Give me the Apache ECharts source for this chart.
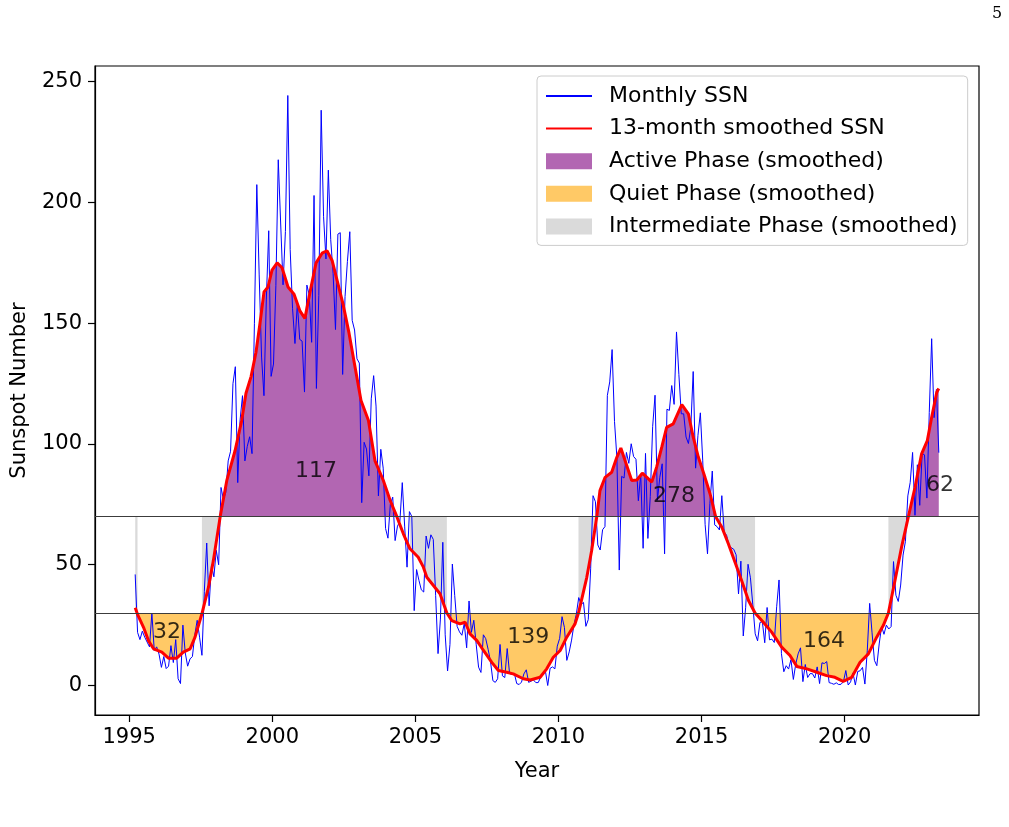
<!DOCTYPE html>
<html>
<head>
<meta charset="utf-8">
<script src="https://cdn.jsdelivr.net/npm/echarts@6/dist/echarts.min.js"></script>
<style>
html, body { margin: 0; padding: 0; background: #fff; }
#chart { width: 1009px; height: 827px; }
</style>
</head>
<body>
<div id="chart"></div>
<script>
// monthly SSN, first value is March 1995, last is April 2023
const START_YEAR = 1995;
const START_MONTH = 3;
const monthlySSN = [
	46, 22, 19, 22.5, 20, 18, 16, 30, 14.5, 16,
	13, 7.5, 12, 7, 8, 16.5, 9.5, 19, 2.8, 0.8, 25, 13.5,
	8, 11, 12, 21, 27, 20, 12.5, 39, 59, 33, 50, 45,
	56, 50, 82, 77, 80, 93, 97, 125, 132, 84, 110, 120,
	93, 99, 103, 96, 150, 207.4, 170, 136, 120, 160, 188.3, 128,
	133.1, 165.7, 217.7, 191.5, 165.9, 188.0, 244.3, 180.5, 156.0, 141.6, 158.1, 143.3,
	142.6, 121.5, 165.8, 161.7, 142.1, 202.9, 123.0, 161.5, 238.2, 194.1, 176.6, 213.4,
	184.6, 170.5, 147.4, 186.9, 187.5, 128.8, 161.0, 175.6, 187.9, 151.2, 147.2, 135.3,
	133.5, 75.7, 100.7, 97.9, 86.8, 118.7, 128.3, 115.7, 78.5, 97.8, 90, 65,
	61, 75, 78, 60, 66, 68, 84, 66, 49, 72, 70, 31,
	48, 43.5, 39.6, 38.7, 61.9, 56.8, 62.4, 60.5, 37.2, 13.2, 27.5, 59.3,
	21, 6, 17, 50.3, 37.2, 24.5, 22.2, 20.8, 25.7, 15.6, 35, 22,
	27, 17, 7.6, 5.4, 21, 19.4, 15, 10, 2, 1.3, 2.8, 17,
	4, 3.3, 15.3, 4.9, 4.6, 5, 0.8, 0.4, 1.4, 4.8, 6.5, 1.3,
	1.8, 2.3, 1.2, 1.2, 3.3, 4.5, 6.1, 0, 7.1, 7.7, 6.9, 16.3,
	19.5, 28.5, 24.0, 10.4, 13.9, 18.8, 25.2, 29.6, 36.4, 33.6, 34.4, 24.5,
	27.3, 48.3, 78.6, 76.1, 58.2, 56.1, 64.5, 65.8, 120.1, 125.7, 139.1, 109.3,
	94.4, 47.8, 86.6, 85.9, 96.5, 92.0, 100.1, 94.8, 93.7, 76.5, 87.6, 56.8,
	96.1, 60.9, 78.3, 107.3, 120.2, 76.7, 86.2, 91.8, 54.5, 114.4, 113.9, 124.2,
	116.4, 146.4, 128.7, 112.5, 112.5, 102.9, 100.2, 106.9, 130.0, 90.0, 103.6, 112.9,
	93.0, 66.7, 54.5, 75.3, 88.8, 66.5, 65.8, 64.4, 78.6, 63.6, 62.2, 58.0,
	57.0, 56.4, 54.1, 37.9, 51.5, 20.5, 32.4, 50.2, 44.6, 33.4, 21.4, 18.5,
	26.1, 26.4, 17.7, 32.3, 18.9, 19.2, 17.8, 32.6, 43.7, 13.2, 5.7, 8.2,
	6.8, 10.7, 2.5, 8.9, 13.1, 15.6, 1.6, 8.7, 3.3, 4.9, 4.9, 3.1,
	7.7, 0.8, 9.4, 9.1, 9.9, 1.2, 0.9, 0.5, 1.1, 0.4, 0.5, 1.6,
	6.2, 0.2, 1.5, 5.2, 0.2, 5.8, 6.1, 7.5, 0.6, 14.4, 34.0, 21.8,
	10.4, 8.2, 17.2, 24.5, 21.2, 25.0, 23.4, 24.4, 51.3, 37.4, 34.8, 41.6,
	54.0, 59.7, 78.5, 84.1, 96.5, 70.5, 91.4, 74.6, 96.0, 95.5, 77.6, 113.1,
	143.6, 110.9, 122.6, 96.4
];

// 13-month smoothed curve
const smoothYears = [
	1995.21, 1995.29, 1995.50, 1995.67, 1995.85, 1996.14, 1996.37, 1996.66, 1996.89, 1997.13,
	1997.30, 1997.54, 1997.77, 1997.94, 1998.18, 1998.41, 1998.70, 1998.93, 1999.08, 1999.26,
	1999.43, 1999.57, 1999.71, 1999.85, 1999.99, 2000.17, 2000.34, 2000.55, 2000.76, 2000.97,
	2001.14, 2001.32, 2001.53, 2001.74, 2001.91, 2002.09, 2002.26, 2002.47, 2002.68, 2002.89,
	2003.10, 2003.36, 2003.59, 2003.88, 2004.12, 2004.35, 2004.58, 2004.81, 2005.10, 2005.28,
	2005.40, 2005.63, 2005.86, 2006.10, 2006.27, 2006.56, 2006.74, 2006.91, 2007.15, 2007.38,
	2007.67, 2007.90, 2008.19, 2008.42, 2008.77, 2009.01, 2009.36, 2009.59, 2009.82, 2010.06,
	2010.29, 2010.58, 2010.70, 2010.99, 2011.16, 2011.34, 2011.45, 2011.63, 2011.86, 2012.04,
	2012.18, 2012.33, 2012.56, 2012.74, 2012.93, 2013.09, 2013.26, 2013.43, 2013.61, 2013.78,
	2014.01, 2014.31, 2014.54, 2014.71, 2014.89, 2015.12, 2015.30, 2015.49, 2015.71, 2015.94,
	2016.17, 2016.40, 2016.64, 2016.87, 2017.16, 2017.45, 2017.80, 2018.09, 2018.33, 2018.68,
	2019.03, 2019.37, 2019.66, 2019.95, 2020.25, 2020.54, 2020.83, 2021.12, 2021.35, 2021.53,
	2021.76, 2021.99, 2022.23, 2022.46, 2022.69, 2022.89, 2023.04, 2023.22, 2023.29
];
const smoothSSN = [
	32.2, 29.5, 24.1, 18.6, 15.2, 13.8, 11.3, 11.3, 13.8, 15.2,
	20, 29.7, 40.7, 51.7, 70, 84.9, 97.3, 109.7, 121, 128,
	138, 150, 163, 165, 172, 175, 173, 165, 162, 155,
	152, 163, 175, 179, 180, 176, 168, 158, 146, 132,
	118, 109.7, 93, 84.9, 76.6, 70, 62.8, 56.6, 53.1, 49,
	44.8, 41.4, 38, 30, 26.9, 25.5, 26.2, 21.4, 18.6, 14.5,
	9.6, 6.2, 5.5, 4.8, 2.8, 2.3, 3.4, 6.9, 11.7, 14.5,
	20, 25.5, 30, 44.8, 55.9, 70, 80.7, 86.2, 88.3, 94.5,
	98.3, 93.1, 84.9, 85.1, 87.9, 86.2, 84.2, 90.4, 98.7, 106.9,
	108.3, 116.3, 112.5, 102.8, 94.5, 86.2, 79.3, 70, 65.5, 58.6,
	51, 43.5, 35.2, 30, 26.2, 22.1, 15.9, 12.4, 7.9, 6.9,
	5.5, 4.1, 3.4, 1.7, 3.4, 9.6, 13.1, 20, 24.8, 30,
	43.5, 57.3, 70, 82.1, 95.9, 101.4, 111, 121.4, 123
];

// phase spans (years) as shaded in the figure
const activeSpans = [[1998.17, 2004.36], [2011.33, 2015.50], [2022.22, 2023.30]];
const quietSpans = [[1995.28, 1997.55], [2006.09, 2010.71], [2016.86, 2021.54]];
const interSpans = [[1995.20, 1995.30], [1997.53, 1998.19], [2004.80, 2006.11], [2010.69, 2011.35], [2015.70, 2016.88], [2021.52, 2022.24]];
const ACTIVE_LEVEL = 70;
const QUIET_LEVEL = 30;

// numbers written on the phases
const noteYears = [1996.32, 2001.53, 2008.94, 2014.04, 2019.28, 2023.33];
const noteValues = [21.9, 88.6, 19.9, 78.2, 18.2, 82.8];
const noteTexts = ['32', '117', '139', '278', '164', '62'];

const xTicks = [1995, 2000, 2005, 2010, 2015, 2020];
const yTicks = [0, 50, 100, 150, 200, 250];

const FONT = 'DejaVu Sans';
const C_ACTIVE = '#b266b2';
const C_QUIET = '#ffc966';
const C_INTER = '#dadada';

const monthYears = monthlySSN.map((v, i) => START_YEAR + (START_MONTH - 1 + i + 0.5) / 12);
const monthlyData = monthlySSN.map((v, i) => [monthYears[i], v]);
const smoothData = smoothSSN.map((v, i) => [smoothYears[i], v]);

function phaseData(spans) {
	return smoothYears.map((x, i) => {
		let inside = spans.some(s => x >= s[0] && x <= s[1]);
		return inside ? [x, smoothSSN[i]] : [x, '-'];
	});
}

// matplotlib style 5% margins
let x0 = monthYears[0], x1 = monthYears[monthYears.length - 1];
let yLo = Math.min(...monthlySSN), yHi = Math.max(...monthlySSN);
const xMin = x0 - 0.05 * (x1 - x0), xMax = x1 + 0.05 * (x1 - x0);
const yMin = yLo - 0.05 * (yHi - yLo), yMax = yHi + 0.05 * (yHi - yLo);

const chart = echarts.init(document.getElementById('chart'));

function fillSeries(name, spans, level, color) {
	return {
		name: name,
		type: 'line',
		data: phaseData(spans),
		symbol: 'none',
		silent: true,
		connectNulls: false,
		lineStyle: { width: 0 },
		itemStyle: { color: color },
		areaStyle: { origin: level, color: color, opacity: 1 },
		z: 1
	};
}

chart.setOption({
	animation: false,
	backgroundColor: '#fff',
	textStyle: { fontFamily: FONT },
	grid: {
		left: 95, right: 30, top: 66, bottom: 112,
		show: true, borderColor: '#000', borderWidth: 1.2,
		backgroundColor: 'transparent'
	},
	xAxis: {
		type: 'value',
		min: xMin, max: xMax,
		name: 'Year', nameLocation: 'middle', nameGap: 46,
		nameTextStyle: { fontSize: 21, color: '#000', fontFamily: FONT },
		axisLine: { show: true, onZero: false, lineStyle: { color: '#000', width: 1.2 } },
		axisTick: { show: true, customValues: xTicks, length: 7, lineStyle: { color: '#000', width: 1.2 } },
		axisLabel: { customValues: xTicks, fontSize: 21, color: '#000', margin: 12, fontFamily: FONT, formatter: v => String(v) },
		splitLine: { show: false }
	},
	yAxis: {
		type: 'value',
		min: yMin, max: yMax,
		name: 'Sunspot Number', nameLocation: 'middle', nameGap: 65,
		nameTextStyle: { fontSize: 21, color: '#000', fontFamily: FONT },
		axisLine: { show: true, onZero: false, lineStyle: { color: '#000', width: 1.2 } },
		axisTick: { show: true, customValues: yTicks, length: 7, lineStyle: { color: '#000', width: 1.2 } },
		axisLabel: { customValues: yTicks, fontSize: 21, color: '#000', margin: 13, fontFamily: FONT, formatter: v => String(v) },
		splitLine: { show: false }
	},
	legend: {
		orient: 'vertical',
		left: 537, top: 76,
		itemWidth: 46, itemHeight: 16, itemGap: 10.6,
		padding: [9, 10, 8, 8],
		backgroundColor: 'rgba(255,255,255,0.8)',
		borderColor: '#cccccc', borderWidth: 1, borderRadius: 4,
		selectedMode: false,
		textStyle: { fontSize: 22, color: '#000', fontFamily: FONT, lineHeight: 22, padding: [0, 0, 0, 12] },
		data: [
			{ name: 'Monthly SSN', itemStyle: { opacity: 0 } },
			{ name: '13-month smoothed SSN', itemStyle: { opacity: 0 } },
			{ name: 'Active Phase (smoothed)', icon: 'rect', itemStyle: { color: C_ACTIVE } },
			{ name: 'Quiet Phase (smoothed)', icon: 'rect', itemStyle: { color: C_QUIET } },
			{ name: 'Intermediate Phase (smoothed)', icon: 'rect', itemStyle: { color: C_INTER } }
		]
	},
	graphic: [
		{ type: 'text', left: 992, top: 6, style: { text: '5', font: '16px "DejaVu Serif"', fill: '#000' } }
	],
	series: [
		fillSeries('Active Phase (smoothed)', activeSpans, ACTIVE_LEVEL, C_ACTIVE),
		fillSeries('Quiet Phase (smoothed)', quietSpans, QUIET_LEVEL, C_QUIET),
		fillSeries('Intermediate Phase (smoothed)', interSpans, ACTIVE_LEVEL, C_INTER),
		{
			name: 'Monthly SSN',
			type: 'line',
			data: monthlyData,
			symbol: 'none',
			silent: true,
			lineStyle: { color: '#0000ff', width: 1 },
			itemStyle: { color: '#0000ff' },
			z: 3,
			markLine: {
				silent: true,
				symbol: 'none',
				label: { show: false },
				lineStyle: { color: '#3c3c3c', width: 1.2, type: 'solid' },
				data: [{ yAxis: ACTIVE_LEVEL }, { yAxis: QUIET_LEVEL }]
			}
		},
		{
			name: '13-month smoothed SSN',
			type: 'line',
			data: smoothData,
			symbol: 'none',
			silent: true,
			lineStyle: { color: '#ff0000', width: 3 },
			itemStyle: { color: '#ff0000' },
			z: 4
		},
		{
			name: 'notes',
			type: 'scatter',
			symbolSize: 0,
			silent: true,
			z: 5,
			data: noteTexts.map((t, i) => ({ value: [noteYears[i], noteValues[i]], label: { formatter: t } })),
			label: { show: true, position: 'inside', fontSize: 22, color: '#000', fontFamily: FONT }
		}
	]
});
</script>
</body>
</html>
